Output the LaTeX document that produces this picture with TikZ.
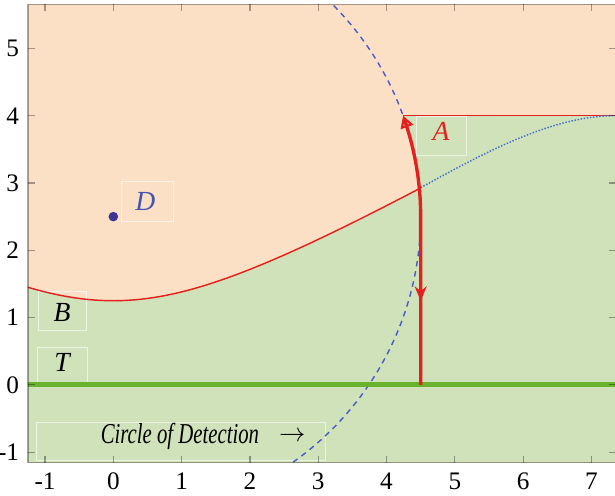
\documentclass[tikz,border=0pt]{standalone}
\usepackage{fontspec}
\setmainfont{Liberation Serif}
\newfontfamily\narrowserif[FakeStretch=0.72]{Liberation Serif}
\usepackage{xcolor}
\usepackage{tikz}
\usetikzlibrary{positioning, arrows.meta, calc, decorations.markings}

\definecolor{peach}{RGB}{252,224,198}
\definecolor{grass}{RGB}{207,226,186}
\definecolor{trajred}{RGB}{228,32,30}
\definecolor{tgreen}{RGB}{104,178,44}
\definecolor{dblue}{RGB}{62,52,150}
\definecolor{lblue}{RGB}{68,84,178}
\definecolor{cblue}{RGB}{76,92,200}
\definecolor{sblue}{RGB}{70,110,205}

\begin{document}
\begin{tikzpicture}[
    x=1cm, y=0.985cm,
    >=Stealth,
    every node/.style={font=\fontsize{10.5}{12}\selectfont},
    frameline/.style={draw=black, draw opacity=0.35, line width=0.5pt},
    lblbox/.style={draw=white, draw opacity=0.6, line width=0.4pt, minimum width=0.72cm, minimum height=0.57cm, inner sep=0pt},
    ticklbl/.style={font=\fontsize{10.5}{12}\selectfont, inner sep=1pt},
    lbl/.style={font=\fontsize{11.5}{13}\selectfont\itshape},
    bound/.style={trajred, line width=0.6pt},
    detect/.style={cblue, line width=0.6pt, dash pattern=on 2.3pt off 2pt},
    safeline/.style={sblue, line width=0.6pt, dash pattern=on 0.6pt off 0.7pt},
    traj/.style={trajred, line width=1.4pt},
    target/.style={tgreen, line width=2pt},
    dot/.style={circle, fill=dblue, inner sep=0pt, minimum size=4pt},
]

\useasboundingbox (-1.659,-1.649) rectangle (7.345,5.72);

% ---- regions ----
\begin{scope}
\clip (-1.25,-1.155) rectangle (7.35,5.657);
\fill[peach] (-1.25,-1.155) rectangle (7.35,5.657);
\fill[grass] (-1.25,-1.155)
    -- plot[domain=-1.25:4.479, samples=60] (\x,{sqrt(1.5625+0.3456*\x*\x)})
    -- plot[domain=5.48:19.47, samples=20] ({4.5*cos(\x)},{2.5+4.5*sin(\x)})
    -- (7.35,4) -- (7.35,-1.155) -- cycle;

% ---- label boxes ----
\node[lblbox, minimum width=0.73cm, minimum height=0.56cm] (Abox) at (4.80,3.70) {};
\node[lblbox, minimum width=0.75cm, minimum height=0.59cm] (Dbox) at (0.50,2.72) {};
\node[lblbox, minimum width=0.70cm] (Bbox) at (-0.74,1.10) {};
\node[lblbox, minimum width=0.73cm] (Tbox) at (-0.74,0.26) {};
\node[lblbox, minimum width=4.23cm, minimum height=0.55cm] (cdbox) at (0.99,-0.84) {};

% ---- circle of detection ----
\node[dot] (D) at (0,2.5) {};
\draw[detect] plot[domain=-60:50, samples=120] ({4.5*cos(\x)},{2.5+4.5*sin(\x)});

% ---- boundaries ----
\coordinate (bend) at (4.5,2.93);
\coordinate (apex) at ({4.5*cos(19.47)},4);
\coordinate (rim) at (7.35,4);
\coordinate (foot) at (4.5,0);
\draw[bound] plot[domain=-1.25:4.5, samples=60] (\x,{sqrt(1.5625+0.3456*\x*\x)});
\draw[bound] (apex) -- (rim);
\draw[safeline] (bend) .. controls (5.6,3.55) and (6.5,4.0) .. (rim);

% ---- target line ----
\draw[target] (-1.25,0) -- (7.35,0);

% ---- trajectory ----
\draw[traj, {Triangle[open, length=5pt, width=5.5pt, line width=0.9pt]}-,
    postaction={decorate},
    decoration={markings, mark=at position 0.69 with {\arrow{Stealth[length=6pt, width=5pt]}}}]
    plot[domain=19.47:0, samples=25] ({4.5*cos(\x)},{2.5+4.5*sin(\x)}) -- (foot);
\end{scope}

% ---- labels ----
\node[lbl, text=trajred] (A) at (4.80,3.76) {A};
\node[lbl, text=lblue] (Dlab) at (0.47,2.73) {D};
\node[lbl] (B) at (-0.75,1.08) {B};
\node[lbl] (T) at (-0.75,0.33) {T};
\node[font=\fontsize{12}{14}\selectfont\narrowserif\itshape, anchor=west, inner sep=0pt] (cdlabel) at (-0.19,-0.77) {Circle of Detection};
\node[anchor=west, inner sep=0pt] (cdarrow) at (2.42,-0.77) {$\rightarrow$};

% ---- frame and ticks ----
\draw[frameline] (-1.25,-1.155) rectangle (7.35,5.657);
\foreach \i in {-1,...,7} {
    \draw[frameline] (\i,-1.155) -- ++(0,0.1);
    \draw[frameline] (\i,5.657) -- ++(0,-0.1);
    \node[ticklbl, below=3pt] (xl\i) at (\i,-1.155) {\i};
}
\foreach \j in {-1,...,5} {
    \draw[frameline] (-1.25,\j) -- ++(0.1,0);
    \draw[frameline] (7.35,\j) -- ++(-0.1,0);
    \node[ticklbl, left=2.5pt] (yl\j) at (-1.25,\j) {\j};
}

\end{tikzpicture}
\end{document}
